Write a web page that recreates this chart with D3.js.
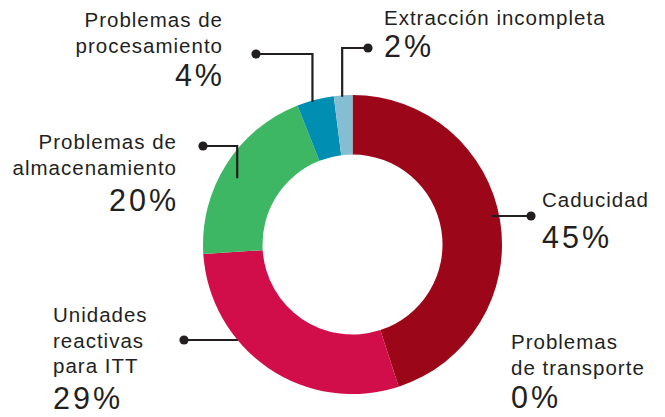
<!DOCTYPE html>
<html><head><meta charset="utf-8">
<script src="https://cdn.jsdelivr.net/npm/d3@7"></script>
<style>
html,body{margin:0;padding:0;background:#fff;}
svg text{font-family:"Liberation Sans",Arial,Helvetica,sans-serif;fill:#231f20;}
</style></head>
<body><svg id="c" width="665" height="417"></svg>
<script>
// ---- data ----
const categories = ["Caducidad","Problemas de transporte","Unidades reactivas para ITT","Problemas de almacenamiento","Problemas de procesamiento","Extracción incompleta"];
const values = [45, 0, 29, 20, 4, 2];
const labelLines = [["Caducidad"],["Problemas","de transporte"],["Unidades","reactivas","para ITT"],["Problemas de","almacenamiento"],["Problemas de","procesamiento"],["Extracción incompleta"]];
const colors = ["#9b0619","#9b0619","#d10e49","#3db764","#008fb2","#85bed3"];

// ---- layout ----
const W=665,H=417, cx=352.5, cy=244.5, rOut=149.5, rIn=90;
const svg=d3.select("#c");
const g=svg.append("g").attr("transform",`translate(${cx},${cy})`);
const pie=d3.pie().sort(null).value(d=>d).startAngle(0).endAngle(2*Math.PI);
const arcs=pie(values);
const arc=d3.arc().innerRadius(rIn).outerRadius(rOut);
g.selectAll("path.slice").data(arcs).join("path").attr("class","slice")
  .attr("d",arc).attr("fill",(d,i)=>colors[i]);

// leader lines: attach angle (deg), attach radius, dot position
const leaders=[
  {i:0, ang:78.5, r:142, dot:[531,216], mode:"h"},
  {i:2, ang:230.3, r:149, dot:[184,340], mode:"h"},
  {i:3, ang:299.9, r:133, dot:[203,146], mode:"v"},
  {i:4, ang:344.3, r:148, dot:[256,54], mode:"v"},
  {i:5, ang:356, r:148, dot:[368,48], mode:"v"}
];
leaders.forEach(L=>{
  const a=L.ang*Math.PI/180;
  const px=cx+L.r*Math.sin(a), py=cy-L.r*Math.cos(a);
  let pts;
  if(L.mode==="h") pts=[[px,L.dot[1]],[L.dot[0],L.dot[1]]];
  else pts=[[px,py],[px,L.dot[1]],[L.dot[0],L.dot[1]]];
  svg.append("path").attr("d",d3.line()(pts)).attr("fill","none")
    .attr("stroke","#231f20").attr("stroke-width",2.2);
  svg.append("circle").attr("cx",L.dot[0]).attr("cy",L.dot[1]).attr("r",4.6).attr("fill","#231f20");
});

// labels
const labelPos=[
  {x:542, y:207, anchor:"start", gap:41},
  {x:511, y:349, anchor:"start", gap:33},
  {x:53, y:322, anchor:"start", gap:36},
  {x:176, y:149, anchor:"end", gap:36},
  {x:222, y:27, anchor:"end", gap:33},
  {x:384, y:25, anchor:"start", gap:32}
];
const lh=25.5;
labelLines.forEach((lines,i)=>{
  const p=labelPos[i];
  const t=svg.append("g");
  lines.forEach((s,k)=>{
    t.append("text").attr("x",p.x).attr("y",p.y+k*lh)
      .attr("text-anchor",p.anchor).attr("font-size",20.5)
      .attr("letter-spacing",1.0).attr("dx",p.anchor==="end"?1.0:0).text(s);
  });
  t.append("text").attr("x",p.x).attr("y",p.y+(lines.length-1)*lh+p.gap)
    .attr("text-anchor",p.anchor).attr("font-size",30.5)
    .attr("letter-spacing",3).attr("dx",p.anchor==="end"?3:0).text(values[i]+"%");
});
</script></body></html>
